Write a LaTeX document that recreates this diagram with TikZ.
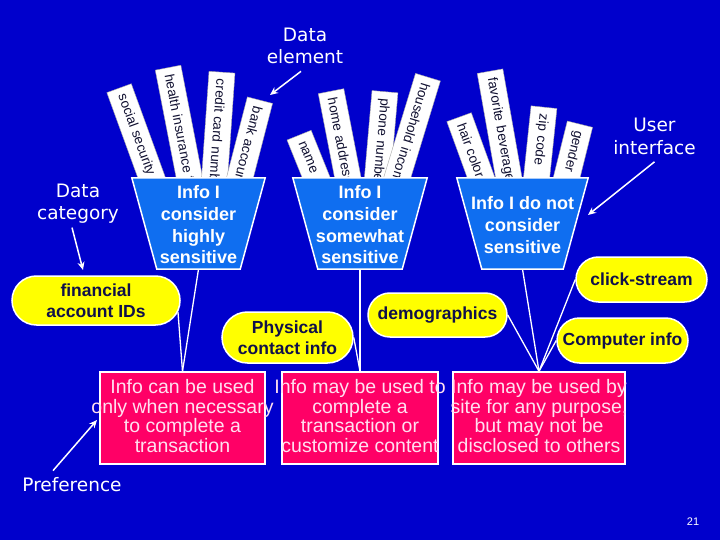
\documentclass[tikz,border=0pt]{standalone}
\usepackage{fontspec}
\setmainfont{Liberation Sans}
\newfontfamily\handfont{DejaVu Sans}
\usetikzlibrary{arrows.meta,shapes.misc,calc}
\definecolor{bgblue}{HTML}{0000CC}
\definecolor{trapblue}{HTML}{0F6EF0}
\definecolor{ovalyellow}{HTML}{FFFF00}
\definecolor{boxred}{HTML}{FF0066}
\definecolor{navytext}{HTML}{10104A}
\definecolor{pinktext}{HTML}{FFE0F0}
\definecolor{striptext}{HTML}{101030}
\begin{document}
\begin{tikzpicture}[x=1pt,y=-1pt,
 elemstrip/.style={fill=white, draw=gray!70, line width=0.4pt, anchor=west, minimum height=26pt, text width=150pt, inner xsep=7pt, inner ysep=0pt, align=left, text=striptext, font=\fontsize{13.5}{15}\selectfont},
 trapframe/.style={minimum height=91pt, inner sep=0pt},
 traptext/.style={text=white, align=center, font=\bfseries\fontsize{18}{21.7}\selectfont, inner sep=0pt},
 trapfill/.style={fill=trapblue, draw=white, line width=1.5pt, line join=miter},
 oval/.style={rounded rectangle, fill=ovalyellow, draw=white, line width=1.5pt, inner sep=0pt, align=center, text=navytext, font=\bfseries\fontsize{17.5}{21}\selectfont},
 redbox/.style={rectangle, fill=boxred, draw=white, line width=1.5pt, minimum height=92pt, inner sep=0pt},
 redtext/.style={text=pinktext, align=center, inner sep=0pt, font=\fontsize{19.5}{19.5}\selectfont},
 linkline/.style={draw=white, line width=1.3pt},
 hand/.style={text=white, align=center, inner sep=1pt, font=\handfont\fontsize{18.5}{22.5}\selectfont},
 arr/.style={draw=white, line width=1.5pt, -{Stealth[length=8pt,width=7pt]}}
]
\useasboundingbox (0,0) rectangle (720,540);
\fill[bgblue] (0,0) rectangle (720,540);

% data element strips
\begin{scope}
\clip (0,0) rectangle (720,195);
\node[elemstrip, rotate=-70] (s1) at (119,88) {social security};
\node[elemstrip, rotate=-79] (s2) at (168,67.5) {health insurance f};
\node[elemstrip, rotate=-94] (s3) at (222,72) {credit card number};
\node[elemstrip, rotate=-104.5] (s4) at (260,100) {bank account};
\node[elemstrip, rotate=-68] (s5) at (299,135) {name};
\node[elemstrip, rotate=-79] (s6) at (331,91) {home address};
\node[elemstrip, rotate=-95] (s7) at (385,91.5) {phone number};
\node[elemstrip, rotate=-107] (s8) at (428,77) {household income};
\node[elemstrip, rotate=-70] (s9) at (459,117) {hair color};
\node[elemstrip, rotate=-80] (s10) at (490,71) {favorite beverage};
\node[elemstrip, rotate=-96] (s11) at (544,107) {zip code};
\node[elemstrip, rotate=-104] (s12) at (580,124) {gender};
\end{scope}

% trapezoids
\node[trapframe, minimum width=133pt] (t1) at (198.5,223.5) {};
\filldraw[trapfill] (t1.north west) -- (t1.north east) -- ([xshift=-25pt]t1.south east) -- ([xshift=25pt]t1.south west) -- cycle;
\node[traptext] (t1txt) at ([yshift=-1.5pt]t1.center) {Info I\\consider\\highly\\sensitive};

\node[trapframe, minimum width=134pt] (t2) at (360,223.5) {};
\filldraw[trapfill] (t2.north west) -- (t2.north east) -- ([xshift=-25pt]t2.south east) -- ([xshift=25pt]t2.south west) -- cycle;
\node[traptext] (t2txt) at ([yshift=-1.5pt]t2.center) {Info I\\consider\\somewhat\\sensitive};

\node[trapframe, minimum width=131pt] (t3) at (522.5,223.5) {};
\filldraw[trapfill] (t3.north west) -- (t3.north east) -- ([xshift=-25pt]t3.south east) -- ([xshift=25pt]t3.south west) -- cycle;
\node[traptext] (t3txt) at ([yshift=-1.5pt]t3.center) {Info I do not\\consider\\sensitive};

% ovals
\node[oval, minimum width=168pt, minimum height=49pt] (fin) at (96,300.5) {financial\\account IDs};
\node[oval, minimum width=131pt, minimum height=51pt] (phys) at (287.5,337.5) {Physical\\contact info};
\node[oval, minimum width=139pt, minimum height=44pt] (demo) at (437.5,315) {demographics};
\node[oval, minimum width=131pt, minimum height=45pt] (click) at (641.5,279.5) {click-stream};
\node[oval, minimum width=131pt, minimum height=45pt] (comp) at (622.5,340.5) {Computer info};

% preference boxes
\node[redbox, minimum width=165pt] (b1) at (182.5,418) {};
\node[redbox, minimum width=156pt] (b2) at (360,418) {};
\node[redbox, minimum width=172pt] (b3) at (539,418) {};

% connectors
\draw[linkline] (t1.south) -- (b1.north);
\draw[linkline] (fin.-8) -- (b1.north);
\draw[linkline] (t2.south) -- (b2.north);
\draw[linkline] (phys.east) -- (b2.north);
\draw[linkline] (t3.south) -- (b3.north);
\draw[linkline] (demo.east) -- (b3.north);
\draw[linkline] (click.west) -- (b3.north);
\draw[linkline] (comp.west) -- (b3.north);

\node[redtext] (b1txt) at ([yshift=2pt]b1.center) {Info can be used\\only when necessary\\to complete a\\transaction};
\node[redtext] (b2txt) at ([yshift=2pt]b2.center) {Info may be used to\\complete a\\transaction or\\customize content};
\node[redtext] (b3txt) at ([yshift=2pt]b3.center) {Info may be used by\\site for any purpose,\\but may not be\\disclosed to others};

% annotations
\node[hand] (de) at (305,46) {Data\\element};
\coordinate (detip) at (270,95);
\draw[arr] ([xshift=-4pt,yshift=-6pt]de.south) -- (detip);

\node[hand] (dc) at (78,203.5) {Data\\category};
\coordinate (dctip) at (83,270);
\draw[arr] ([xshift=-6pt,yshift=-3pt]dc.south) -- (dctip);

\node[hand] (ui) at (654.5,136.5) {User\\interface};
\coordinate (uitip) at (588,215);
\draw[arr] ([yshift=-6pt]ui.south) -- (uitip);

\node[hand] (pref) at (72,485) {Preference};
\coordinate (preftip) at (97,420);
\draw[arr] ([xshift=-19pt,yshift=6pt]pref.north) -- (preftip);

\node[text=white, font=\fontsize{11}{13}\selectfont] (pg) at (693,522) {21};
\end{tikzpicture}
\end{document}
